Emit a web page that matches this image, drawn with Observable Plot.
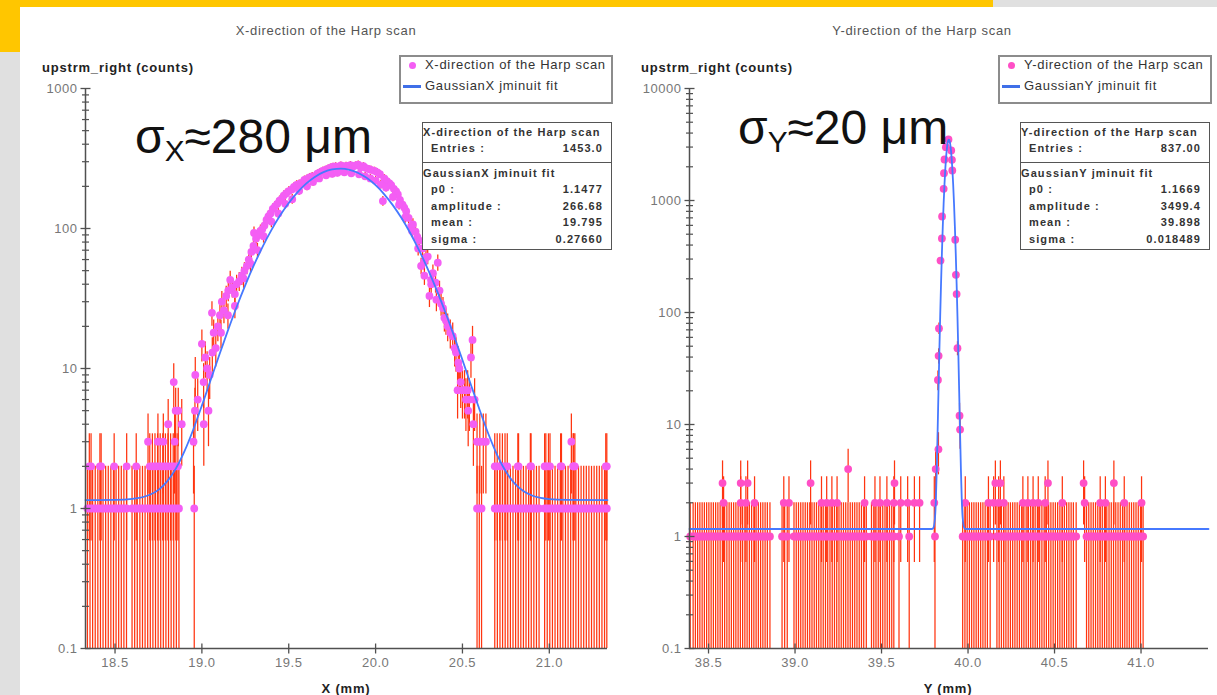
<!DOCTYPE html>
<html><head><meta charset="utf-8">
<script src="https://cdn.jsdelivr.net/npm/d3@7"></script>
<script src="https://cdn.jsdelivr.net/npm/@observablehq/plot@0.6"></script>
<style>
html,body{margin:0;padding:0;}
body{width:1217px;height:695px;position:relative;overflow:hidden;background:#fff;font-family:"Liberation Sans",Arial,sans-serif;color:#333;}
.a{position:absolute;white-space:nowrap;}
.title{font-size:13px;letter-spacing:0.7px;color:#555;transform:translate(-50%,-50%);}
.ylab{font-size:13px;letter-spacing:0.8px;font-weight:bold;color:#222;transform:translateY(-50%);}
.xlab{font-size:13px;letter-spacing:0.8px;font-weight:bold;color:#222;transform:translate(-50%,-50%);}
.legend{border:2px solid #8c8c8c;box-sizing:border-box;background:#fff;font-size:13px;letter-spacing:0.7px;color:#333;}
.stats{border:1px solid #555;box-sizing:border-box;background:#fff;font-size:11px;letter-spacing:1.1px;font-weight:bold;color:#333;}
.sig{font-size:48px;color:#111;line-height:1;}
.sig sub{font-size:0.62em;vertical-align:-0.28em;line-height:0;}
.plot{position:absolute;top:60px;}
</style></head><body>
<div class="a" style="left:0;top:0;width:993px;height:7px;background:#ffc600"></div>
<div class="a" style="left:993px;top:0;width:224px;height:7px;background:#e0e0e0"></div>
<div class="a" style="left:0;top:0;width:20px;height:52px;background:#ffc600"></div>
<div class="a" style="left:0;top:52px;width:20px;height:643px;background:#e0e0e0"></div>
<div id="p1" class="plot" style="left:20px"></div>
<div id="p2" class="plot" style="left:625px"></div>
<div id="overlay"></div>
<script>
// ---------------- data: X-direction scan ----------------
const leftXTicks = [18.5, 19.0, 19.5, 20.0, 20.5, 21.0];
const leftYTicks = [0.1, 1, 10, 100, 1000];
const leftOnesX = [18.341,18.356,18.371,18.386,18.401,18.416,18.431,18.446,18.461,18.476,18.491,18.506,18.521,18.536,18.551,18.566,18.598,18.613,18.628,18.643,18.658,18.673,18.688,18.703,18.718,18.733,18.748,18.763,18.778,18.793,18.808,18.823,18.838,18.853,18.868,18.956,20.584,20.597,20.610,20.686,20.701,20.716,20.731,20.746,20.761,20.776,20.791,20.806,20.821,20.836,20.851,20.866,20.881,20.896,20.911,20.926,20.941,20.973,20.988,21.003,21.018,21.033,21.048,21.063,21.078,21.093,21.108,21.123,21.138,21.153,21.168,21.183,21.198,21.213,21.228,21.243,21.258,21.273,21.288,21.303,21.318,21.331];
const leftTwosX = [18.352,18.362,18.413,18.420,18.495,18.567,18.622,18.700,18.715,18.730,18.745,18.760,18.775,18.790,18.805,18.820,18.835,18.850,18.862,20.686,20.700,20.715,20.730,20.745,20.758,20.819,20.823,20.891,20.895,20.973,20.980,20.995,21.004,21.065,21.070,21.137,21.140,21.147,21.325,21.331];
const leftThreesX = [18.690,18.747,18.778,18.843,18.952,20.584,20.600,20.620,20.635,21.127];
const leftFoursX = [18.806,18.884,19.011,20.563];
const leftFivesX = [18.849,18.864,18.960,19.038,20.533];
const leftCoreX = [18.838,18.962,18.976,19.000,19.010,19.020,19.030,19.045,19.058,19.068,19.080,19.092,19.104,19.115,19.127,19.140,19.152,19.163,19.175,19.190,19.200,19.215,19.230,19.245,19.259,19.270,19.285,19.297,19.300,19.312,19.325,19.337,19.348,19.360,19.372,19.383,19.395,19.408,19.421,19.434,19.447,19.459,19.471,19.485,19.500,19.517,19.530,19.545,19.560,19.574,19.590,19.605,19.620,19.635,19.650,19.665,19.680,19.695,19.710,19.727,19.740,19.755,19.770,19.785,19.800,19.815,19.830,19.842,19.855,19.870,19.885,19.900,19.915,19.930,19.945,19.960,19.975,19.994,20.010,20.025,20.042,20.050,20.065,20.080,20.090,20.105,20.118,20.128,20.140,20.155,20.165,20.176,20.190,20.205,20.215,20.230,20.240,20.252,20.262,20.270,20.281,20.290,20.300,20.310,20.319,20.330,20.345,20.358,20.368,20.377,20.388,20.396,20.405,20.415,20.430,20.444,20.455,20.463,20.472,20.476,20.482,20.490,20.500,20.512,20.520,20.530,20.540,20.549,20.558,20.570];
const leftCoreN = [8,9,6,15,8,12,10,9,25,18,14,20,24,30,26,33,36,43,38,28,40,42,46,50,54,60,68,75,93,85,90,96,99,105,115,122,128,138,144,150,158,162,172,178,185,190,198,205,208,212,222,226,232,236,237,246,252,258,262,268,272,276,278,272,282,276,280,279,284,277,282,286,274,279,270,266,262,258,252,244,157,228,218,210,204,192,184,175,160,148,141,133,119,104,107,95,87,82,54,72,46,62,63,33,43,48,41,57,36,29,27,23,22,20,18,17,14,13,7,11,10,8,7,7,6,7,6,12,16,6];
const leftBandX = [19.060,19.110,19.150,19.190,19.240,19.280,19.320,19.355,19.400,19.440,19.480,19.520,19.560,19.605,19.640,19.675,19.715,19.750,19.780,19.820,19.860,19.905,19.940,19.970,20.000,20.030,20.060,20.100,20.135,20.170,20.210,20.245,20.280,20.320,20.350];
const leftBandN = [13,18,24,34,44,56,70,88,112,128,150,162,186,200,215,228,240,246,250,252,248,244,236,228,220,206,196,168,148,120,96,72,58,40,31];
const fitLX = [18.33,18.50,18.60,18.70,18.75,18.80,18.85,18.90,18.95,19.00,19.05,19.10,19.15,19.20,19.25,19.30,19.35,19.40,19.45,19.50,19.55,19.60,19.65,19.70,19.75,19.80,19.85,19.90,19.95,20.00,20.05,20.10,20.15,20.20,20.25,20.30,20.35,20.40,20.45,20.50,20.55,20.60,20.65,20.70,20.75,20.80,20.85,20.90,20.95,21.00,21.10,21.335];
const fitLY = [1.148,1.152,1.171,1.253,1.359,1.561,1.927,2.569,3.655,5.433,8.24,12.49,18.72,27.52,39.44,54.89,74.25,97.32,123.7,152.1,181.3,209.1,233.6,252.5,264.3,267.8,262.6,249.3,229.1,203.8,175.5,146.3,118.2,92.46,70.09,51.53,36.76,25.53,17.31,11.50,7.57,5.01,3.39,2.41,1.835,1.510,1.333,1.239,1.191,1.168,1.152,1.148];

// ---------------- data: Y-direction scan ----------------
const rightXTicks = [38.5, 39.0, 39.5, 40.0, 40.5, 41.0];
const rightYTicks = [0.1, 1, 10, 100, 1000, 10000];
const rightOnesX = [38.394,38.411,38.424,38.437,38.450,38.463,38.476,38.489,38.502,38.515,38.528,38.541,38.554,38.567,38.580,38.593,38.606,38.619,38.632,38.645,38.658,38.671,38.684,38.697,38.710,38.723,38.736,38.749,38.762,38.775,38.788,38.801,38.814,38.827,38.840,38.855,38.925,38.940,38.955,38.994,39.007,39.020,39.033,39.046,39.059,39.072,39.085,39.098,39.111,39.124,39.137,39.150,39.163,39.176,39.189,39.202,39.215,39.228,39.241,39.254,39.267,39.280,39.293,39.306,39.319,39.332,39.345,39.358,39.371,39.384,39.397,39.412,39.442,39.455,39.468,39.481,39.494,39.507,39.520,39.533,39.546,39.559,39.571,39.601,39.660,39.809,39.969,39.982,39.995,40.008,40.021,40.034,40.047,40.060,40.073,40.086,40.099,40.112,40.128,40.167,40.180,40.193,40.206,40.219,40.232,40.245,40.258,40.271,40.284,40.297,40.310,40.323,40.336,40.349,40.362,40.375,40.388,40.401,40.414,40.427,40.440,40.453,40.466,40.479,40.492,40.505,40.518,40.531,40.544,40.557,40.570,40.583,40.596,40.609,40.625,40.685,40.698,40.711,40.724,40.737,40.750,40.763,40.776,40.789,40.802,40.815,40.828,40.841,40.854,40.867,40.880,40.893,40.906,40.919,40.932,40.945,40.958,40.971,40.984,40.997,41.012];
const rightTwosX = [38.587,38.686,38.716,38.766,38.935,38.965,39.153,39.183,39.213,39.243,39.402,39.462,39.491,39.531,39.571,39.611,39.651,39.690,39.720,39.805,39.984,40.118,40.148,40.177,40.207,40.317,40.346,40.376,40.406,40.446,40.545,40.674,40.764,40.794,40.903,41.003];
const rightThreesX = [38.581,38.686,38.726,39.090,39.575,40.158,40.187,40.462,40.668,40.843];
const rightFoursX = [39.307,39.813];
const rightPeakX = [39.826,39.829,39.830,39.832,39.841,39.849,39.850,39.859,39.861,39.864,39.872,39.887,39.903,39.907,39.909,39.926,39.930,39.934,39.939,39.951,39.954];
const rightPeakN = [25,6,41,72,291,458,720,1271,1753,2323,2993,3507,2794,2310,1853,446,217,146,48,12,9];
const fitRX = [38.39,39.789,39.799,39.809,39.814,39.819,39.824,39.829,39.834,39.839,39.844,39.849,39.854,39.859,39.864,39.869,39.874,39.879,39.884,39.889,39.894,39.899,39.904,39.909,39.914,39.919,39.924,39.929,39.934,39.939,39.944,39.949,39.954,39.959,39.964,39.969,39.979,39.989,41.39];
const fitRY = [1.167,1.167,1.19,1.47,2.10,3.86,8.41,19.2,43.1,91.5,182,338,584,939,1404,1951,2519,3024,3375,3501,3375,3024,2519,1951,1404,939,584,338,182,91.5,43.1,19.2,8.41,3.86,2.10,1.47,1.19,1.167,1.167];

// ---------------- text ----------------
const panels = [
  {title: "X-direction of the Harp scan", fitName: "GaussianX jminuit fit", entries: "1453.0",
   params: [["p0 :", "1.1477"], ["amplitude :", "266.68"], ["mean :", "19.795"], ["sigma :", "0.27660"]],
   axis: "X (mm)", sigma: ["X", "≈280 μm"], dot: "#f45ef4"},
  {title: "Y-direction of the Harp scan", fitName: "GaussianY jminuit fit", entries: "837.00",
   params: [["p0 :", "1.1669"], ["amplitude :", "3499.4"], ["mean :", "39.898"], ["sigma :", "0.018489"]],
   axis: "Y (mm)", sigma: ["Y", "≈20 μm"], dot: "#ff4fc6"}
];
const yAxisTitle = "upstrm_right (counts)";

function table(groups, xs, ns) {
  const out = [];
  for (const [arr, n] of groups) for (const x of arr) out.push({x, n});
  xs.forEach((x, i) => out.push({x, n: ns[i]}));
  return out;
}
const leftPts = table([[leftOnesX,1],[leftTwosX,2],[leftThreesX,3],[leftFoursX,4],[leftFivesX,5]], leftCoreX.concat(leftBandX), leftCoreN.concat(leftBandN));
const rightPts = table([[rightOnesX,1],[rightTwosX,2],[rightThreesX,3],[rightFoursX,4]], rightPeakX, rightPeakN);

const vTick = {draw(c, s) { const h = Math.sqrt(s / Math.PI); c.moveTo(0, -h); c.lineTo(0, h); }};
const hTick = {draw(c, s) { const h = Math.sqrt(s / Math.PI); c.moveTo(-h, 0); c.lineTo(h, 0); }};

function panel({xDomain, yDomain, xTicks, yTicks, pts, fitX, fitY, dotColor, width, marginLeft, marginRight}) {
  const yMinor = d3.scaleLog().domain(yDomain).ticks().filter(v => !yTicks.some(t => Math.abs(t - v) / t < 1e-9));
  const ax = "#505050";
  const fit = fitX.map((x, i) => ({x, y: fitY[i]}));
  return Plot.plot({
    width, height: 620, marginTop: 28, marginBottom: 32, marginLeft, marginRight,
    style: {background: "transparent", fontFamily: "Liberation Sans, Arial, sans-serif", fontSize: "13px", letterSpacing: "0.5px", color: "#777"},
    x: {domain: xDomain, ticks: xTicks, tickFormat: d3.format(".1f"), tickSize: 0, tickPadding: 9, label: null},
    y: {type: "log", domain: yDomain, ticks: yTicks, tickFormat: d => String(d), tickSize: 0, tickPadding: 8, label: null},
    marks: [
      Plot.ruleX(pts, {x: "x", y1: d => Math.max(d.n - Math.sqrt(d.n), yDomain[0]), y2: d => d.n + Math.sqrt(d.n), stroke: "#ff3510", strokeWidth: 1.25}),
      Plot.dot(pts, {x: "x", y: "n", r: 3.9, fill: dotColor, stroke: "none"}),
      Plot.line(fit, {x: "x", y: "y", stroke: "#4679ff", strokeWidth: 1.8, curve: "monotone-x"}),
      Plot.ruleY([yDomain[0]], {stroke: ax, strokeWidth: 1.5}),
      Plot.ruleX([xDomain[0]], {stroke: ax, strokeWidth: 1.5}),
      Plot.dot(xTicks, {x: d => d, y: () => yDomain[0], symbol: vTick, r: 5, stroke: ax, fill: "none", strokeWidth: 1.3}),
      Plot.dot(yTicks, {x: () => xDomain[0], y: d => d, symbol: hTick, r: 5, stroke: ax, fill: "none", strokeWidth: 1.3}),
      Plot.dot(yMinor, {x: () => xDomain[0], y: d => d, symbol: hTick, r: 3.5, stroke: ax, fill: "none", strokeWidth: 1.2})
    ]
  });
}

document.getElementById("p1").appendChild(panel({
  xDomain: [18.33, 21.335], yDomain: [0.1, 1000], xTicks: leftXTicks, yTicks: leftYTicks, pts: leftPts,
  fitX: fitLX, fitY: fitLY, dotColor: panels[0].dot, width: 600, marginLeft: 65, marginRight: 13}));
document.getElementById("p2").appendChild(panel({
  xDomain: [38.39, 41.39], yDomain: [0.1, 10000], xTicks: rightXTicks, yTicks: rightYTicks, pts: rightPts,
  fitX: fitRX, fitY: fitRY, dotColor: panels[1].dot, width: 592, marginLeft: 64, marginRight: 9}));

// ---------------- overlays ----------------
const layout = [
  {titleX: 326, yLabX: 42, axisX: 346, legL: 399, statsL: 422, sigL: 135, sigT: 113},
  {titleX: 922, yLabX: 641, axisX: 948, legL: 998, statsL: 1020, sigL: 738, sigT: 104}
];
const ov = document.getElementById("overlay");
function el(html, cls, style) { const d = document.createElement("div"); d.className = "a " + (cls || ""); d.style.cssText = style; d.innerHTML = html; ov.appendChild(d); return d; }
panels.forEach((p, i) => {
  const L = layout[i];
  el(p.title, "title", `left:${L.titleX}px;top:30px`);
  el(yAxisTitle, "ylab", `left:${L.yLabX}px;top:67px`);
  el(p.axis, "xlab", `left:${L.axisX}px;top:688px`);
  el(`σ<sub>${p.sigma[0]}</sub>${p.sigma[1]}`, "sig", `left:${L.sigL}px;top:${L.sigT}px`);
  const leg = el("", "legend", `left:${L.legL}px;top:55px;width:214px;height:49px`);
  leg.innerHTML = `<div class="a" style="left:8px;top:5px;width:7px;height:7px;border-radius:50%;background:${p.dot}"></div>
    <div class="a" style="left:24px;top:0px">${p.title}</div>
    <div class="a" style="left:2px;top:28px;width:18px;height:3px;background:#3f6fe8"></div>
    <div class="a" style="left:24px;top:21px">${p.fitName}</div>`;
  const st = el("", "stats", `left:${L.statsL}px;top:122px;width:190px;height:128px`);
  let h = `<div class="a" style="left:0;top:3px">${p.title}</div>
    <div class="a" style="left:8px;top:19px">Entries :</div><div class="a" style="right:8px;top:19px">${p.entries}</div>
    <div class="a" style="left:0;top:39px;width:188px;height:1px;background:#555"></div>
    <div class="a" style="left:0;top:44px">${p.fitName}</div>`;
  p.params.forEach(([k, v], j) => {
    const t = 60 + j * 16.7;
    h += `<div class="a" style="left:8px;top:${t}px">${k}</div><div class="a" style="right:8px;top:${t}px">${v}</div>`;
  });
  st.innerHTML = h;
});
</script>
</body></html>
